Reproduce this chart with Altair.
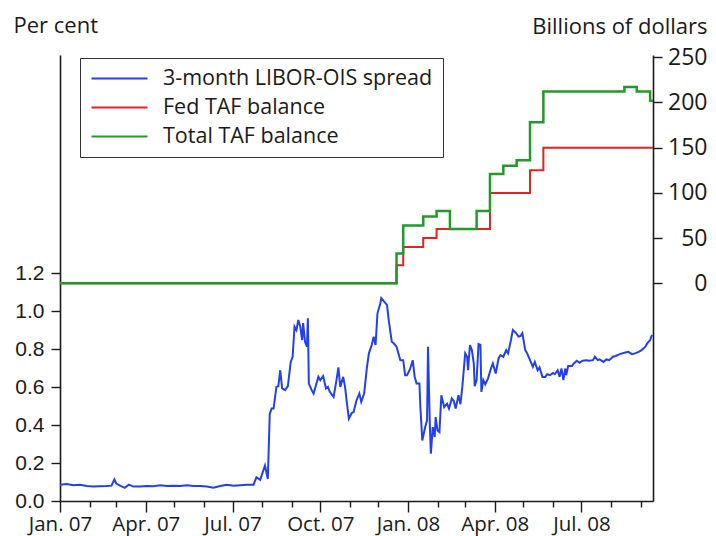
import altair as alt
import pandas as pd

# ---- data ----
# 3-month LIBOR-OIS spread (per cent); days counted from 1 Jan 2007
libor_day = [0, 7, 14, 21, 28, 35, 42, 49, 54, 57, 59, 63, 68, 72, 77, 84, 91, 98, 105, 112,
             119, 126, 133, 140, 147, 154, 161, 168, 175, 182, 189, 196, 203,
             206, 210, 215, 218, 220, 222, 224, 227, 229, 231, 233, 236, 239, 242, 244, 246, 248,
             250, 252, 254, 255, 257, 259, 260, 261, 264, 266, 269, 271, 273, 276, 279, 281, 283,
             287, 290, 292, 294, 297, 299, 301, 303, 306, 308, 311, 314, 316, 319, 322, 324, 327,
             329, 331, 333, 336, 337, 340, 343, 345, 348, 350, 353,
             357, 360, 362, 364, 367, 370, 372, 374, 377, 378, 380, 383, 385, 386, 388, 389, 391,
             393, 394, 396, 398, 400, 403, 406, 408, 411, 413, 415, 418, 420, 422, 425, 427, 428,
             430, 432, 434, 435, 437, 439, 441, 442, 444, 446, 449, 452, 454, 457, 460, 462, 465,
             468, 470, 473, 475, 478, 481, 483, 485, 488, 490, 493, 496, 498, 501, 503, 506, 509,
             511, 514, 517, 519, 522, 524, 526, 528, 530, 531, 533, 537, 539, 542, 545, 548, 552,
             555, 559, 561, 564, 566, 570, 573, 576, 580, 583, 587, 592, 596, 600, 603, 607, 610,
             614, 616, 619, 621]
libor_pct = [0.086, 0.090, 0.083, 0.085, 0.079, 0.076, 0.078, 0.079, 0.081, 0.114, 0.092, 0.081,
             0.069, 0.086, 0.076, 0.076, 0.079, 0.078, 0.083, 0.079,
             0.081, 0.079, 0.083, 0.079, 0.079, 0.076, 0.070, 0.079, 0.086, 0.081, 0.083, 0.085, 0.086,
             0.125, 0.111, 0.187, 0.116, 0.460, 0.487, 0.487, 0.601, 0.605, 0.689, 0.593, 0.584,
             0.605, 0.733, 0.760, 0.919, 0.901,
             0.954, 0.919, 0.848, 0.937, 0.839, 0.813, 0.963, 0.619, 0.584, 0.566, 0.619, 0.654,
             0.637, 0.658, 0.593, 0.601, 0.575,
             0.548, 0.637, 0.704, 0.601, 0.654, 0.601, 0.513, 0.434, 0.464, 0.469, 0.531, 0.566,
             0.522, 0.566, 0.707, 0.778, 0.822,
             0.866, 0.822, 0.989, 1.042, 1.069, 1.051, 1.033, 0.945, 0.839, 0.831, 0.813,
             0.742, 0.742, 0.663, 0.663, 0.693, 0.742, 0.654, 0.619, 0.619, 0.495, 0.319, 0.389,
             0.425, 0.813, 0.389, 0.249, 0.389,
             0.337, 0.442, 0.372, 0.363, 0.557, 0.495, 0.513, 0.487, 0.540, 0.527, 0.487, 0.557,
             0.510, 0.601, 0.778, 0.760, 0.689,
             0.822, 0.795, 0.725, 0.605, 0.637, 0.827, 0.822, 0.575, 0.637, 0.615, 0.646, 0.698,
             0.725, 0.672, 0.751, 0.769, 0.760,
             0.795, 0.778, 0.848, 0.901, 0.887, 0.866, 0.869, 0.884, 0.795, 0.778, 0.742, 0.707,
             0.733, 0.689, 0.704, 0.654, 0.654,
             0.668, 0.663, 0.675, 0.668, 0.689, 0.654, 0.698, 0.637, 0.698, 0.663, 0.711, 0.711,
             0.725, 0.739, 0.728, 0.739, 0.742,
             0.739, 0.742, 0.760, 0.742, 0.746, 0.733, 0.746, 0.742, 0.760, 0.764, 0.774, 0.781,
             0.786, 0.774, 0.778, 0.786, 0.795,
             0.813, 0.831, 0.848, 0.875]
assert len(libor_day) == len(libor_pct)

# TAF balances (billions of dollars), step changes
taf_dates = ["2007-01-01", "2007-12-20", "2007-12-27", "2008-01-17", "2008-01-31",
             "2008-02-14", "2008-03-13", "2008-03-27", "2008-04-10", "2008-04-24",
             "2008-05-08", "2008-05-22", "2008-08-15", "2008-08-28", "2008-09-11", "2008-09-14"]
fed_taf = [0, 20, 40, 50, 60, 60, 60, 100, 100, 100, 125, 150, 150, 150, 150, 150]
total_taf = [0, 33, 64, 74, 80, 60, 80, 121, 130, 136, 178, 212, 217, 212, 202, 202]

S_LIBOR = "3-month LIBOR-OIS spread"
S_FED = "Fed TAF balance"
S_TOT = "Total TAF balance"
series_names = [S_LIBOR, S_FED, S_TOT]
series_colors = ["#2340f0", "#e32222", "#22992a"]

pct_ticks = [0.0, 0.2, 0.4, 0.6, 0.8, 1.0, 1.2]
bn_ticks = [0, 50, 100, 150, 200, 250]

base = pd.Timestamp("2007-01-01")
libor_df = pd.DataFrame({
    "date": (base + pd.to_timedelta(libor_day, unit="D")).strftime("%Y-%m-%d"),
    "value": libor_pct, "series": S_LIBOR})
fed_df = pd.DataFrame({"date": taf_dates, "value": fed_taf, "series": S_FED})
tot_df = pd.DataFrame({"date": taf_dates, "value": total_taf, "series": S_TOT})

W, H = 593, 446
INK = "#1a1a1a"

x_enc = alt.X(
    "date:T",
    title=None,
    scale=alt.Scale(domain=[alt.DateTime(year=2007, month=1, date=1),
                            alt.DateTime(year=2008, month=9, date=14)]),
    axis=alt.Axis(
        tickCount={"interval": "month", "step": 1},
        labelExpr="month(datum.value) % 3 == 0 ? timeFormat(datum.value, '%b. %y') : ''",
        tickSize={"condition": {"test": "month(datum.value) % 3 == 0", "value": 11}, "value": 6},
        labelOverlap=False, labelFlush=False,
        labelFont="Open Sans", labelFontSize=20.5, labelColor=INK,
        labelBaseline="alphabetic", labelPadding=18,
        domainColor=INK, domainWidth=1.6, tickColor=INK, tickWidth=1.4, grid=False),
)

color_enc = alt.Color(
    "series:N",
    scale=alt.Scale(domain=series_names, range=series_colors),
    legend=alt.Legend(
        orient="none", legendX=20, legendY=3, title=None,
        symbolType="stroke", symbolSize=3136, symbolStrokeWidth=2.2, clipHeight=21,
        rowPadding=7, labelOffset=14, labelFont="Open Sans", labelFontSize=21.5,
        labelColor=INK, labelLimit=500, padding=10, strokeColor="#333", fillColor="white"),
)

libor = alt.Chart(libor_df).mark_line(strokeWidth=2).encode(
    x=x_enc,
    y=alt.Y("value:Q",
            scale=alt.Scale(domain=[0, 2.35], nice=False, zero=False),
            axis=alt.Axis(
                orient="left", values=pct_ticks, format=".1f",
                tickSize=9, labelPadding=7, labelFont="Liberation Sans", labelFontSize=21,
                labelColor=INK, domainColor=INK, domainWidth=1.6, tickColor=INK, tickWidth=1.4,
                grid=False,
                title="Per cent", titleAngle=0, titleAlign="left", titleBaseline="alphabetic",
                titleX=-47, titleY=-23, titleFont="Open Sans", titleFontSize=22,
                titleFontWeight="normal", titleColor=INK)),
    color=color_enc,
)

bn_scale = alt.Scale(domain=[-240.8, 252.5], nice=False, zero=False)

fed = alt.Chart(fed_df).mark_line(strokeWidth=2, interpolate="step-after").encode(
    x=x_enc,
    y=alt.Y("value:Q", scale=bn_scale,
            axis=alt.Axis(
                orient="right", values=bn_ticks, format="d",
                tickSize=9, labelPadding=45, labelAlign="right",
                labelFont="Open Sans", labelFontSize=23, labelColor=INK,
                domainColor=INK, domainWidth=1.6, tickColor=INK, tickWidth=1.4, grid=False,
                title="Billions of dollars", titleAngle=0, titleAlign="right",
                titleBaseline="alphabetic", titleX=54, titleY=-22, titleFont="Open Sans",
                titleFontSize=22, titleFontWeight="normal", titleColor=INK)),
    color=color_enc,
)

total = alt.Chart(tot_df).mark_line(strokeWidth=2.5, interpolate="step-after").encode(
    x=x_enc,
    y=alt.Y("value:Q", scale=bn_scale, axis=None),
    color=color_enc,
)

chart = (
    alt.layer(libor, fed, total)
    .resolve_scale(y="independent")
    .properties(width=W, height=H,
                padding={"left": 52, "top": 47, "right": 55, "bottom": 35},
                autosize=alt.AutoSizeParams(type="none"))
    .configure(font="Open Sans")
    .configure_view(stroke=None)
)

chart.save("out.html", embed_options={"renderer": "svg", "actions": False})
